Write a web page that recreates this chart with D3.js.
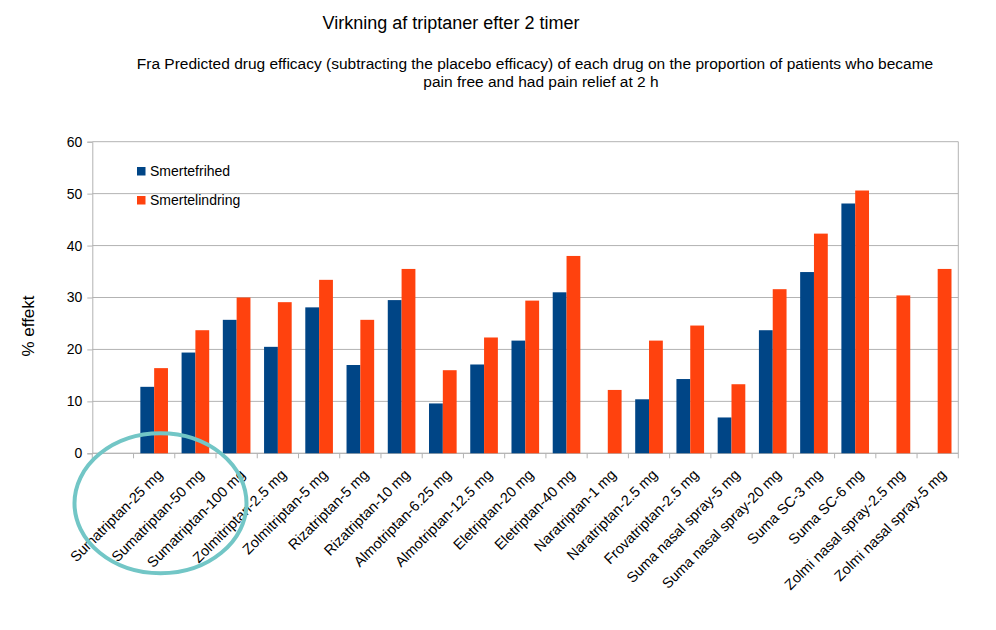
<!DOCTYPE html>
<html>
<head>
<meta charset="utf-8">
<script src="https://cdn.jsdelivr.net/npm/d3@7"></script>
<style>
  body { margin: 0; background: #fff; }
  text { font-family: "Liberation Sans", Arial, sans-serif; fill: #000; }
</style>
</head>
<body>
<div id="chart"></div>
<script>
var categories = ["", "Sumatriptan-25 mg", "Sumatriptan-50 mg", "Sumatriptan-100 mg",
  "Zolmitriptan-2.5 mg", "Zolmitriptan-5 mg", "Rizatriptan-5 mg", "Rizatriptan-10 mg",
  "Almotriptan-6.25 mg", "Almotriptan-12.5 mg", "Eletriptan-20 mg", "Eletriptan-40 mg",
  "Naratriptan-1 mg", "Naratriptan-2.5 mg", "Frovatriptan-2.5 mg", "Suma nasal spray-5 mg",
  "Suma nasal spray-20 mg", "Suma SC-3 mg", "Suma SC-6 mg", "Zolmi nasal spray-2.5 mg",
  "Zolmi nasal spray-5 mg"];
var smertefrihed = [null, 12.8, 19.4, 25.7, 20.5, 28.1, 17.0, 29.5, 9.6, 17.1, 21.7, 31.0,
  null, 10.4, 14.3, 6.9, 23.7, 34.9, 48.1, null, null];
var smertelindring = [null, 16.4, 23.7, 30.0, 29.1, 33.4, 25.7, 35.5, 16.0, 22.3, 29.4, 38.0,
  12.2, 21.7, 24.6, 13.3, 31.6, 42.3, 50.6, 30.4, 35.5];
var seriesNames = ["Smertefrihed", "Smertelindring"];
var seriesColors = ["#004586", "#ff420e"];
var yTicks = [0, 10, 20, 30, 40, 50, 60];

var width = 996, height = 630;
var plotLeft = 92.3, plotRight = 958.3, plotTop = 141.7, plotBottom = 453.3;

var svg = d3.select("#chart").append("svg")
  .attr("width", width)
  .attr("height", height);

var x = d3.scaleBand().domain(categories.map(function (d, i) { return i; }))
  .range([plotLeft, plotRight]).padding(0);
var xSub = d3.scaleBand().domain([0, 1])
  .range([x.bandwidth() * 0.165, x.bandwidth() * 0.835]);
var y = d3.scaleLinear().domain([0, 60]).range([plotBottom, plotTop]);

// grid
svg.append("g").selectAll("line")
  .data(yTicks)
  .enter().append("line")
  .attr("x1", plotLeft).attr("x2", plotRight)
  .attr("y1", function (d) { return y(d); })
  .attr("y2", function (d) { return y(d); })
  .attr("stroke", "#b3b3b3").attr("stroke-width", 1);

svg.append("line")
  .attr("x1", plotRight).attr("x2", plotRight).attr("y1", plotTop).attr("y2", plotBottom)
  .attr("stroke", "#b3b3b3");

// y axis
var yAxis = svg.append("g")
  .attr("transform", "translate(" + plotLeft + ",0)")
  .call(d3.axisLeft(y).tickValues(yTicks).tickSize(5).tickPadding(5));
yAxis.select(".domain").attr("stroke", "#b3b3b3");
yAxis.selectAll(".tick line").attr("stroke", "#b3b3b3");
yAxis.selectAll(".tick text").style("font-size", "14px")
  .style("font-family", "Liberation Sans, Arial, sans-serif").attr("fill", "#000");

// x axis ticks at category boundaries
var bounds = categories.map(function (d, i) { return x(i); }).concat([plotRight]);
svg.append("g").selectAll("line")
  .data(bounds)
  .enter().append("line")
  .attr("x1", function (d) { return d; })
  .attr("x2", function (d) { return d; })
  .attr("y1", plotBottom).attr("y2", plotBottom + 5)
  .attr("stroke", "#b3b3b3");
svg.append("line")
  .attr("x1", plotLeft).attr("x2", plotRight).attr("y1", plotBottom).attr("y2", plotBottom)
  .attr("stroke", "#b3b3b3");

// bars
[smertefrihed, smertelindring].forEach(function (vals, s) {
  svg.append("g").selectAll("rect")
    .data(vals.map(function (v, i) { return { i: i, v: v }; })
      .filter(function (d) { return d.v != null; }))
    .enter().append("rect")
    .attr("x", function (d) { return x(d.i) + xSub(s); })
    .attr("width", xSub.bandwidth())
    .attr("y", function (d) { return y(d.v); })
    .attr("height", function (d) { return y(0) - y(d.v); })
    .attr("fill", seriesColors[s]);
});

// category labels
svg.append("g").selectAll("text")
  .data(categories)
  .enter().append("text")
  .attr("transform", function (d, i) {
    return "translate(" + (x(i) + x.bandwidth() / 2) + "," + (plotBottom + 13) + ") rotate(-45)";
  })
  .attr("text-anchor", "end")
  .attr("dy", "0.9em")
  .style("font-size", "14.5px")
  .text(function (d) { return d; });

// titles
svg.append("text")
  .attr("x", 451).attr("y", 29)
  .attr("text-anchor", "middle")
  .style("font-size", "18px")
  .text("Virkning af triptaner efter 2 timer");
svg.append("text")
  .attr("x", 535).attr("y", 69)
  .attr("text-anchor", "middle")
  .style("font-size", "15.5px")
  .text("Fra Predicted drug efficacy (subtracting the placebo efficacy) of each drug on the proportion of patients who became");
svg.append("text")
  .attr("x", 541).attr("y", 87)
  .attr("text-anchor", "middle")
  .style("font-size", "15.5px")
  .text("pain free and had pain relief at 2 h");

svg.append("text")
  .attr("transform", "translate(34,326) rotate(-90)")
  .attr("text-anchor", "middle")
  .style("font-size", "17px")
  .text("% effekt");

// legend
var legend = svg.append("g").selectAll("g")
  .data(seriesNames)
  .enter().append("g")
  .attr("transform", function (d, i) { return "translate(137," + (167 + i * 29) + ")"; });
legend.append("rect")
  .attr("width", 8.5).attr("height", 8.5)
  .attr("fill", function (d, i) { return seriesColors[i]; });
legend.append("text")
  .attr("x", 13).attr("y", 9)
  .style("font-size", "14px")
  .text(function (d) { return d; });

// annotation ellipse
svg.append("ellipse")
  .attr("cx", 160.5).attr("cy", 503.3)
  .attr("rx", 86).attr("ry", 70)
  .attr("fill", "none")
  .attr("stroke", "#72c6c6")
  .attr("stroke-width", 4);
</script>
</body>
</html>
